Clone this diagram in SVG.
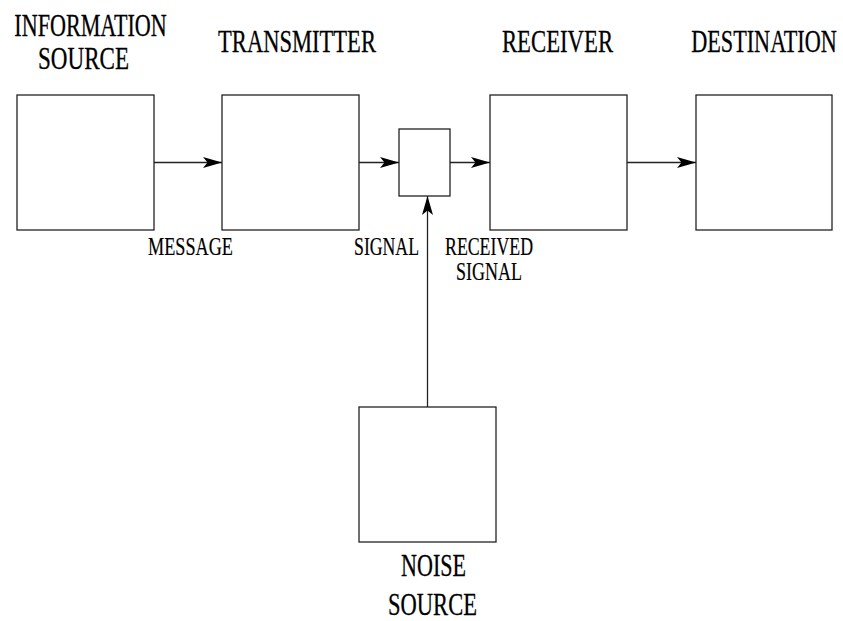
<svg xmlns="http://www.w3.org/2000/svg" width="843" height="621" viewBox="0 0 843 621">
<defs>
<marker id="ah" markerUnits="userSpaceOnUse" markerWidth="20" markerHeight="12" refX="19" refY="6" orient="auto">
<path d="M0,0.5 L19,6 L0,11.5 L4.5,6 Z" fill="#000"/>
</marker>
<style>
.box{fill:#fff;stroke:#222;stroke-width:1.3}
.ln{fill:none;stroke:#222;stroke-width:1.3}
.big{font-family:"Liberation Serif","Times New Roman",serif;font-size:32px;fill:#000;stroke:#000;stroke-width:0.3;text-anchor:middle}
.sm{font-family:"Liberation Serif","Times New Roman",serif;font-size:25px;fill:#000;stroke:#000;stroke-width:0.2;text-anchor:middle}
</style>
</defs>
<rect width="843" height="621" fill="#fff"/>
<g id="info-source">
<rect class="box" x="17" y="95" width="137" height="135"/>
<text class="big" transform="translate(90.5,36) scale(0.692,1)">INFORMATION</text>
<text class="big" transform="translate(83.5,69) scale(0.721,1)">SOURCE</text>
</g>
<g id="transmitter">
<rect class="box" x="222" y="95" width="137" height="135"/>
<text class="big" transform="translate(297,52) scale(0.705,1)">TRANSMITTER</text>
</g>
<g id="channel">
<rect class="box" x="399" y="129" width="51" height="67"/>
</g>
<g id="receiver">
<rect class="box" x="490" y="95" width="137" height="135"/>
<text class="big" transform="translate(557.5,52) scale(0.71,1)">RECEIVER</text>
</g>
<g id="destination">
<rect class="box" x="696" y="95" width="136" height="135"/>
<text class="big" transform="translate(764,52) scale(0.695,1)">DESTINATION</text>
</g>
<g id="noise-source">
<rect class="box" x="359" y="407" width="137" height="135"/>
<text class="big" transform="translate(433.5,576) scale(0.69,1)">NOISE</text>
<text class="big" transform="translate(432.5,615) scale(0.705,1)">SOURCE</text>
</g>
<g id="connectors">
<line class="ln" x1="154" y1="162.5" x2="222" y2="162.5" marker-end="url(#ah)"/>
<line class="ln" x1="359" y1="162.5" x2="399" y2="162.5" marker-end="url(#ah)"/>
<line class="ln" x1="450" y1="162.5" x2="490" y2="162.5" marker-end="url(#ah)"/>
<line class="ln" x1="627" y1="162.5" x2="696" y2="162.5" marker-end="url(#ah)"/>
<line class="ln" x1="427.5" y1="407" x2="427.5" y2="196" marker-end="url(#ah)"/>
</g>
<g id="labels">
<text class="sm" transform="translate(190.5,255) scale(0.728,1)">MESSAGE</text>
<text class="sm" transform="translate(386.5,255) scale(0.709,1)">SIGNAL</text>
<text class="sm" transform="translate(489,255) scale(0.712,1)">RECEIVED</text>
<text class="sm" transform="translate(489,280) scale(0.72,1)">SIGNAL</text>
</g>
</svg>
